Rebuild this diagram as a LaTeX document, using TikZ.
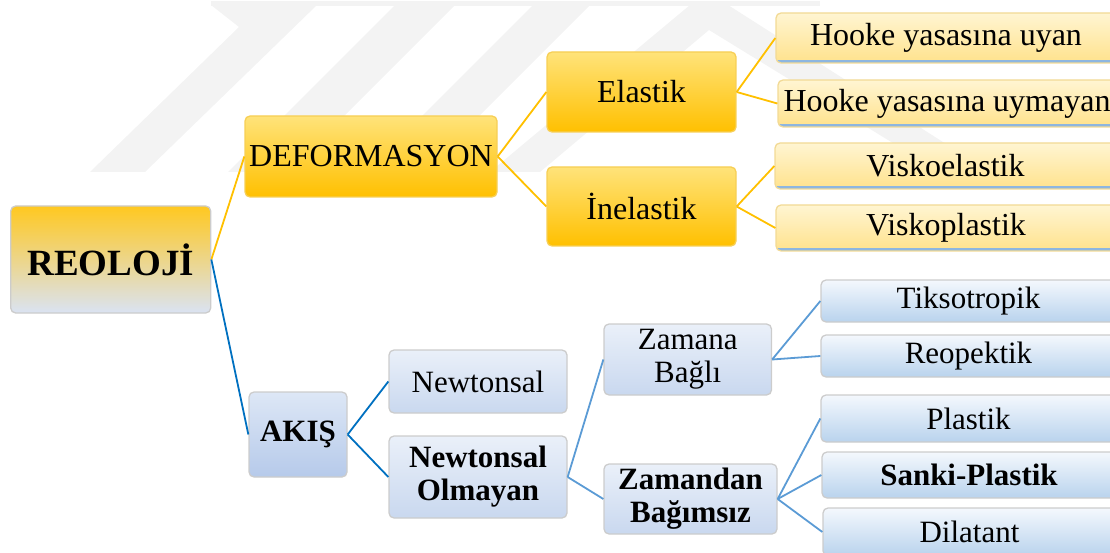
\documentclass[tikz,border=0pt]{standalone}
\usepackage{fontspec}
\setmainfont{Liberation Serif}
\usepackage{xcolor}
\usepackage{tikz}

\definecolor{rootyel}{HTML}{FFC820}
\definecolor{rootmid}{HTML}{EEDC9A}
\definecolor{rootblue}{HTML}{DAE3F3}
\definecolor{yeltop}{HTML}{FFE37A}
\definecolor{yelbot}{HTML}{FFC000}
\definecolor{yelrim}{HTML}{F7CF55}
\definecolor{leaftop}{HTML}{FFF5D2}
\definecolor{leafbot}{HTML}{FFE28C}
\definecolor{leafrim}{HTML}{F2DA95}
\definecolor{leafedge}{HTML}{8DB6E0}
\definecolor{bluetop}{HTML}{EAF0F9}
\definecolor{bluebot}{HTML}{C9D8EF}
\definecolor{akistop}{HTML}{DDE7F6}
\definecolor{akisbot}{HTML}{B6CAEA}
\definecolor{lbluetop}{HTML}{F4F8FD}
\definecolor{lbluebot}{HTML}{B9D3ED}
\definecolor{goldcol}{HTML}{FFC000}
\definecolor{deepblue}{HTML}{0070C0}
\definecolor{softblue}{HTML}{5B9BD5}
\definecolor{wmcol}{HTML}{F3F3F3}

\tikzset{
  box/.style={rounded corners=5pt, draw=gray!40, line width=1.3pt, align=center,
    inner sep=0pt, font=\fontsize{31}{33}\selectfont},
  rootbox/.style={box, top color=rootyel, middle color=rootmid, bottom color=rootblue,
    font=\fontsize{37}{40}\selectfont\bfseries},
  yelbox/.style={box, draw=yelrim, top color=yeltop, bottom color=yelbot,
    font=\fontsize{32}{34}\selectfont},
  yelleaf/.style={box, draw=leafrim, top color=leaftop, bottom color=leafbot,
    font=\fontsize{32}{34}\selectfont,
    path picture={\draw[leafedge, line width=5pt]
      (path picture bounding box.south west) -- (path picture bounding box.south east);}},
  akisbox/.style={box, top color=akistop, bottom color=akisbot},
  bluebox/.style={box, top color=bluetop, bottom color=bluebot},
  blueleaf/.style={box, top color=lbluetop, bottom color=lbluebot},
  goldline/.style={draw=goldcol, line width=1.8pt},
  darkline/.style={draw=deepblue, line width=1.8pt},
  softline/.style={draw=softblue, line width=1.8pt}
}

\begin{document}
\begin{tikzpicture}[x=1pt, y=-1pt]
  \useasboundingbox (0,0) rectangle (1110,553);
  \clip (0,0) rectangle (1110,553);
  % faint watermark
  \fill[wmcol] (211,1) rectangle (820,6);
  \fill[wmcol] (211,5) -- (317,5) -- (145,172) -- (90,172) -- (239,27) -- cycle;
  \fill[wmcol] (395,5) -- (455,5) -- (288,172) -- (228,172) -- cycle;
  \fill[wmcol] (533,5) -- (590,5) -- (423,172) -- (366,172) -- cycle;
  \fill[wmcol] (690,5) -- (728,5) -- (990,172) -- (940,172) -- (709,30) -- (540,172) -- (490,172) -- cycle;

  % root
  \node[rootbox, minimum width=200pt, minimum height=107pt] (reoloji) at (110.7,259.5) {REOLOJİ};

  % deformasyon branch
  \node[yelbox, minimum width=252pt, minimum height=81pt] (deform) at (371,156.5) {DEFORMASYON};
  \node[yelbox, minimum width=189pt, minimum height=80pt] (elastik) at (641.5,92) {Elastik};
  \node[yelbox, minimum width=189pt, minimum height=79pt] (inelastik) at (641.5,206.5) {İnelastik};
  \node[yelleaf, minimum width=340pt, minimum height=50pt] (hookeuyan) at (946,38) {Hooke yasasına uyan};
  \node[yelleaf, minimum width=338pt, minimum height=47pt] (hookeuymayan) at (947,103.5) {Hooke yasasına uymayan};
  \node[yelleaf, minimum width=341pt, minimum height=46pt] (viskoel) at (945.5,166) {Viskoelastik};
  \node[yelleaf, minimum width=340pt, minimum height=46pt] (viskopl) at (946,228) {Viskoplastik};

  % akis branch
  \node[akisbox, minimum width=98pt, minimum height=85pt, font=\fontsize{31}{33}\selectfont\bfseries] (akis) at (298,434.5) {AKIŞ};
  \node[bluebox, minimum width=178pt, minimum height=63pt] (newt) at (478,381.5) {Newtonsal};
  \node[bluebox, minimum width=178pt, minimum height=82pt, font=\fontsize{31}{33}\selectfont\bfseries] (newtol) at (478,477) {Newtonsal\\Olmayan};
  \node[bluebox, minimum width=167.5pt, minimum height=71pt] (zbagli) at (687.75,359.5) {Zamana\\Bağlı};
  \node[bluebox, minimum width=173pt, minimum height=70pt, font=\fontsize{31}{33}\selectfont\bfseries] (zbagimsiz) at (690.5,499) {Zamandan\\Bağımsız};
  \node[blueleaf, minimum width=295pt, minimum height=42pt] (tikso) at (968.5,301) {Tiksotropik};
  \node[blueleaf, minimum width=295pt, minimum height=42pt] (reop) at (968.5,356) {Reopektik};
  \node[blueleaf, minimum width=295pt, minimum height=47pt] (plastik) at (968.5,418.5) {Plastik};
  \node[blueleaf, minimum width=294pt, minimum height=46pt, font=\fontsize{31}{33}\selectfont\bfseries] (sanki) at (969,475) {Sanki-Plastik};
  \node[blueleaf, minimum width=293pt, minimum height=48pt] (dilatant) at (969.5,532) {Dilatant};

  % connectors
  \draw[goldline] (reoloji.east) -- (deform.west);
  \draw[goldline] (deform.east) -- (elastik.west);
  \draw[goldline] (deform.east) -- (inelastik.west);
  \draw[goldline] (elastik.east) -- (hookeuyan.west);
  \draw[goldline] (elastik.east) -- (hookeuymayan.west);
  \draw[goldline] (inelastik.east) -- (viskoel.west);
  \draw[goldline] (inelastik.east) -- (viskopl.west);
  \draw[darkline] (reoloji.east) -- (akis.west);
  \draw[darkline] (akis.east) -- (newt.west);
  \draw[darkline] (akis.east) -- (newtol.west);
  \draw[softline] (newtol.east) -- (zbagli.west);
  \draw[softline] (newtol.east) -- (zbagimsiz.west);
  \draw[softline] (zbagli.east) -- (tikso.west);
  \draw[softline] (zbagli.east) -- (reop.west);
  \draw[softline] (zbagimsiz.east) -- (plastik.west);
  \draw[softline] (zbagimsiz.east) -- (sanki.west);
  \draw[softline] (zbagimsiz.east) -- (dilatant.west);
\end{tikzpicture}
\end{document}
